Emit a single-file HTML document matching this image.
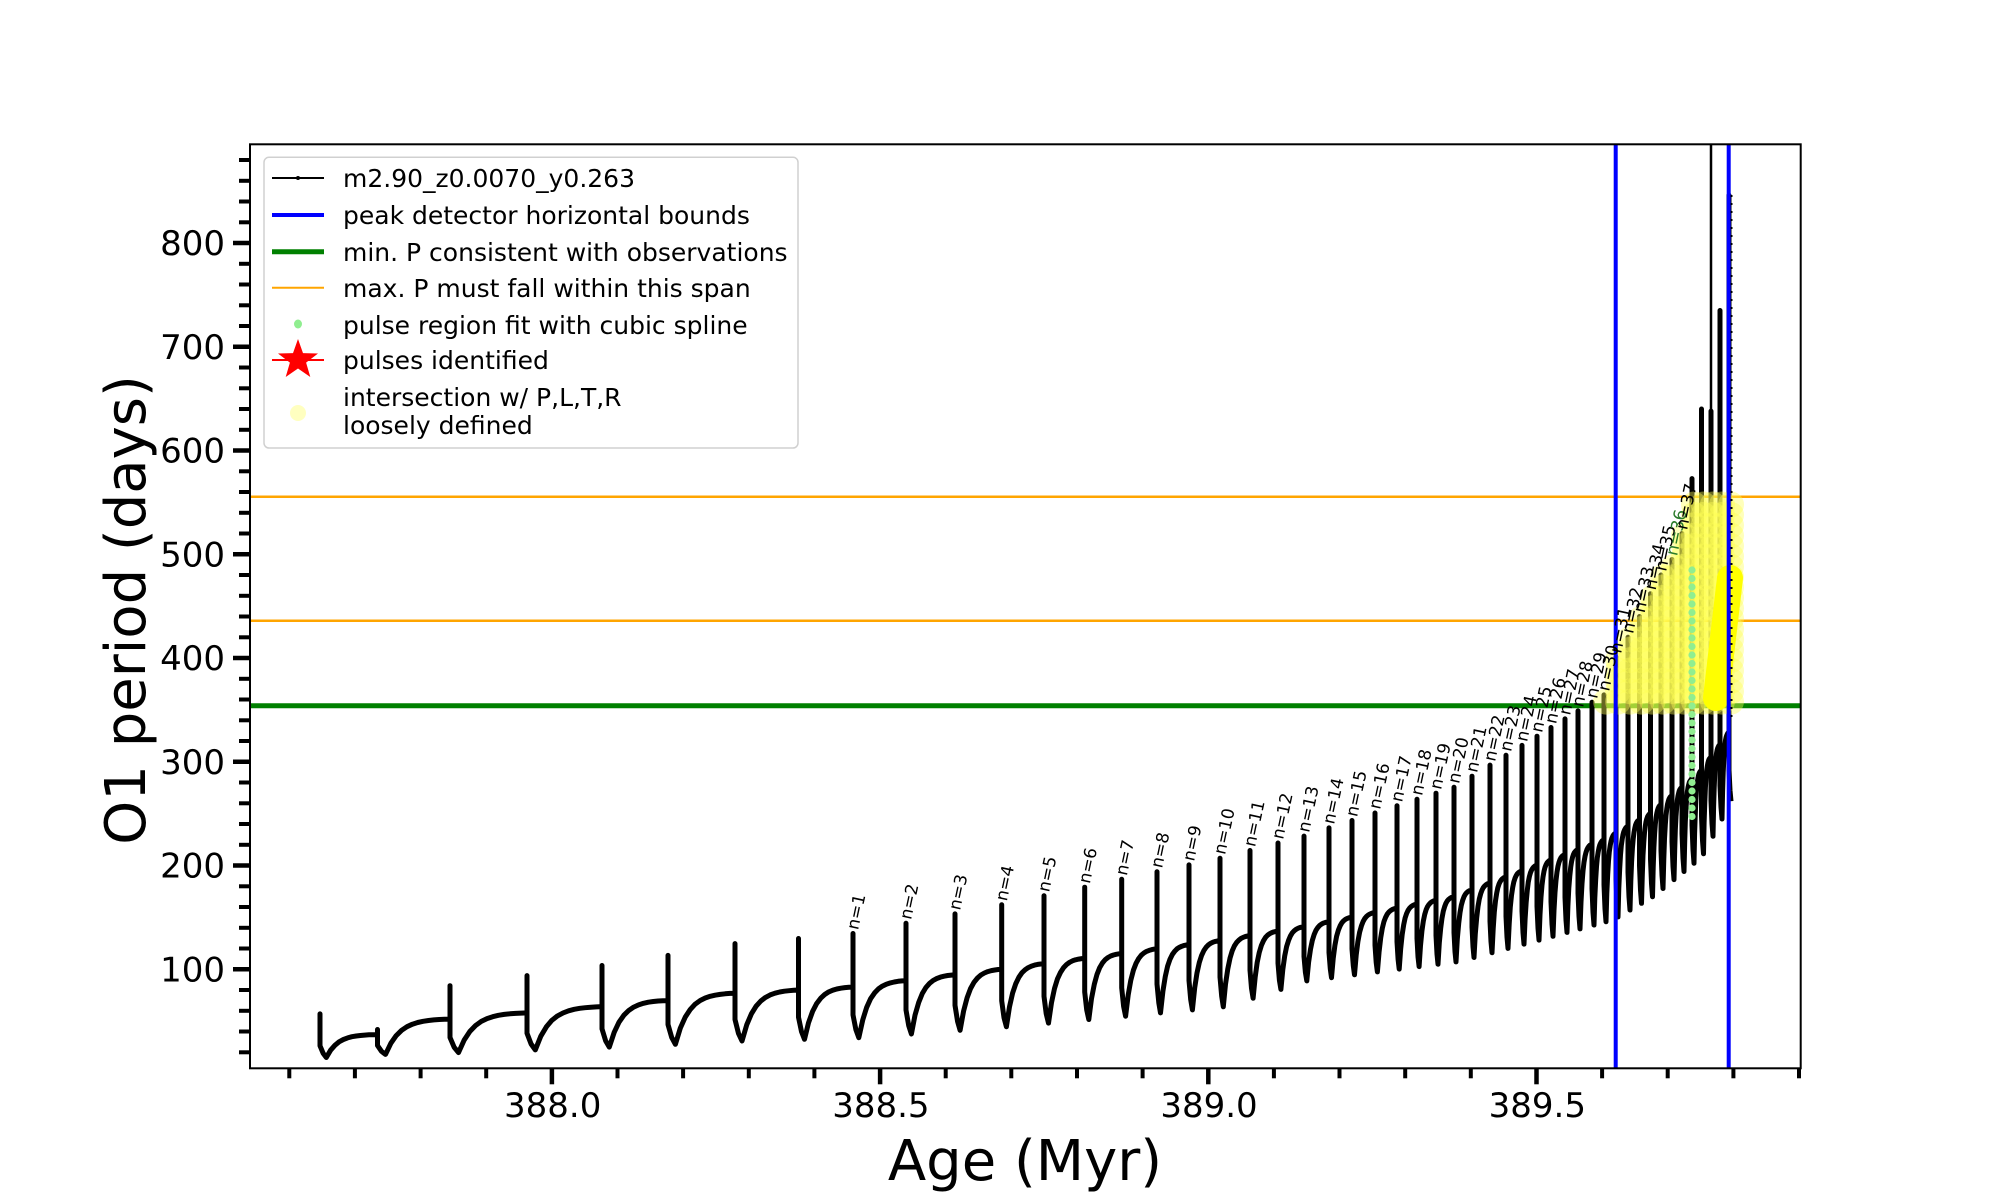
<!DOCTYPE html>
<html><head><meta charset="utf-8">
<style>
html,body{margin:0;padding:0;background:#fff;}
svg{display:block;font-family:"DejaVu Sans","Liberation Sans",sans-serif;}
.lbl{font-size:17px;fill:#000;}
</style></head>
<body>
<svg id="s" width="2000" height="1200" viewBox="0 0 2000 1200" xmlns="http://www.w3.org/2000/svg">
<defs><clipPath id="cp"><rect x="250" y="144.3" width="1550.7" height="924"/></clipPath></defs>
<rect x="0" y="0" width="2000" height="1200" fill="#fff"/>
<g clip-path="url(#cp)">
  <line x1="250" y1="705.7" x2="1800.7" y2="705.7" stroke="#008000" stroke-width="5"/>
  <line x1="250" y1="496.7" x2="1800.7" y2="496.7" stroke="#ffa500" stroke-width="2.5"/>
  <line x1="250" y1="620.7" x2="1800.7" y2="620.7" stroke="#ffa500" stroke-width="2.5"/>
  <g id="yel"></g>
  <path id="curve" d="" fill="none" stroke="#000" stroke-width="5" stroke-linejoin="round"/>
  <line x1="1711" y1="144" x2="1711" y2="420" stroke="#000" stroke-width="2.5"/>
  <g id="yel2"></g>
  <g id="grn"></g>
  <line x1="1716" y1="698" x2="1730" y2="578" stroke="#ffff00" stroke-width="26" stroke-linecap="round"/>
  <line x1="1615.7" y1="144" x2="1615.7" y2="1068" stroke="#0000ff" stroke-width="4"/>
  <line x1="1728.7" y1="144" x2="1728.7" y2="1068" stroke="#0000ff" stroke-width="4"/>
  <line x1="1731.5" y1="195" x2="1731.5" y2="720" stroke="#000" stroke-width="2" stroke-dasharray="2 6"/>
  <g id="labels">
    <text class="lbl">n=1</text><text class="lbl">n=2</text><text class="lbl">n=3</text><text class="lbl">n=4</text><text class="lbl">n=5</text><text class="lbl">n=6</text><text class="lbl">n=7</text><text class="lbl">n=8</text><text class="lbl">n=9</text><text class="lbl">n=10</text><text class="lbl">n=11</text><text class="lbl">n=12</text><text class="lbl">n=13</text><text class="lbl">n=14</text><text class="lbl">n=15</text><text class="lbl">n=16</text><text class="lbl">n=17</text><text class="lbl">n=18</text><text class="lbl">n=19</text><text class="lbl">n=20</text><text class="lbl">n=21</text><text class="lbl">n=22</text><text class="lbl">n=23</text><text class="lbl">n=24</text><text class="lbl">n=25</text><text class="lbl">n=26</text><text class="lbl">n=27</text><text class="lbl">n=28</text><text class="lbl">n=29</text><text class="lbl">n=30</text><text class="lbl">n=31</text><text class="lbl">n=32</text><text class="lbl">n=33</text><text class="lbl">n=34</text><text class="lbl">n=35</text><text class="lbl" style="fill:#2a7a2a">n=36</text><text class="lbl">n=37</text>
  </g>
</g>
<rect x="250" y="144.3" width="1550.7" height="924" fill="none" stroke="#000" stroke-width="2"/>
<g id="ticks"></g>
<g font-size="34" fill="#000">
  <text x="552.7" y="1117" text-anchor="middle">388.0</text>
  <text x="880.9" y="1117" text-anchor="middle">388.5</text>
  <text x="1209" y="1117" text-anchor="middle">389.0</text>
  <text x="1537.3" y="1117" text-anchor="middle">389.5</text>
  <text x="225" y="981.3" text-anchor="end">100</text>
  <text x="225" y="877.5" text-anchor="end">200</text>
  <text x="225" y="773.8" text-anchor="end">300</text>
  <text x="225" y="670" text-anchor="end">400</text>
  <text x="225" y="566.3" text-anchor="end">500</text>
  <text x="225" y="462.5" text-anchor="end">600</text>
  <text x="225" y="358.8" text-anchor="end">700</text>
  <text x="225" y="255" text-anchor="end">800</text>
</g>
<text x="1025" y="1180" font-size="56" text-anchor="middle">Age (Myr)</text>
<text transform="translate(145,610) rotate(-90)" font-size="56" text-anchor="middle">O1 period (days)</text>
<rect x="264" y="157.3" width="534" height="290.7" rx="5" fill="#fff" fill-opacity="0.85" stroke="#d0d0d0" stroke-width="1.5"/>
<line x1="272" y1="178" x2="324" y2="178" stroke="#000" stroke-width="2"/>
<circle cx="298" cy="178" r="2" fill="#000"/>
<line x1="272" y1="215" x2="324" y2="215" stroke="#0000ff" stroke-width="4"/>
<line x1="272" y1="251.7" x2="324" y2="251.7" stroke="#008000" stroke-width="5"/>
<line x1="272" y1="287.7" x2="324" y2="287.7" stroke="#ffa500" stroke-width="2"/>
<ellipse cx="298" cy="324" rx="4" ry="4.5" fill="#90ee90"/>
<line x1="272" y1="360" x2="324" y2="360" stroke="#ff0000" stroke-width="2"/>
<polygon id="star" fill="#ff0000"/>
<ellipse cx="298" cy="413" rx="8" ry="8" fill="#ffffc0"/>
<g font-size="25" fill="#000">
  <text x="343" y="187">m2.90_z0.0070_y0.263</text>
  <text x="343" y="224">peak detector horizontal bounds</text>
  <text x="343" y="261">min. P consistent with observations</text>
  <text x="343" y="297">max. P must fall within this span</text>
  <text x="343" y="334">pulse region fit with cubic spline</text>
  <text x="343" y="369">pulses identified</text>
  <text x="343" y="406">intersection w/ P,L,T,R</text>
  <text x="343" y="434">loosely defined</text>
</g>
</svg>
<script>
(function(){
var NS="http://www.w3.org/2000/svg";
function Y(d){return 969.3-(d-100)*1.0375;}
function interp(pts,x){
  if(x<=pts[0][0])return pts[0][1];
  for(var i=1;i<pts.length;i++){if(x<=pts[i][0]){var a=pts[i-1],b=pts[i];return a[1]+(b[1]-a[1])*(x-a[0])/(b[0]-a[0]);}}
  return pts[pts.length-1][1];
}
var X=[320,377.5,450,527,602,668,735,798.5,853,906,955,1001.7,1044,1084.7,1121.7,1157,1189,1220,1250,1278,1304,1329,1352,1375,1397,1417,1436,1454,1472,1490,1506,1522,1537,1551,1565,1578,1592,1604,1616,1628,1639.5,1650.5,1661,1672,1682,1692,1701.5,1711,1720,1729];
var preP=[[320,40],[377,37],[450,52],[527,58],[602,64],[668,70],[735,77],[798,80],[853,83],[1001,100],[1222,128],[1304,141],[1454,170],[1604,225],[1650,250],[1700,290],[1730,330]];
var minR=[[320,0.37],[853,0.41],[1222,0.5],[1304,0.63],[1466,0.63],[1616,0.65],[1700,0.72],[1730,0.8]];
var peakOverride={0:57,1:42,38:401,39:420,40:440,41:462,42:480,43:495,44:520,45:573,46:640,47:638,48:735,49:846};
var N=X.length,pre=[],pk=[],mn=[];
for(var i=0;i<N;i++){
  pre[i]=interp(preP,X[i]);
  pk[i]=peakOverride[i]!==undefined?peakOverride[i]:pre[i]*1.62;
  mn[i]=pre[i]*interp(minR,X[i]);
}
mn[0]=15;mn[1]=18;
var d="M"+X[0]+" "+Y(pre[0]).toFixed(1);
for(var i=0;i<N;i++){
  var x=X[i],A=pre[i],S=pk[i],m=mn[i];
  var dt=(i<N-1)?X[i+1]-x:8;
  var B=m+(A-m)*0.45;
  d+=" L"+x+" "+Y(A).toFixed(1)+" L"+x+" "+Y(S).toFixed(1)+" L"+x+" "+Y(B).toFixed(1);
  var xm=x+Math.max(2,0.11*dt);
  d+=" L"+((x+xm)/2).toFixed(1)+" "+Y(m+(B-m)*0.35).toFixed(1)+" L"+xm.toFixed(1)+" "+Y(m).toFixed(1);
  if(i<N-1){
    var An=pre[i+1],k=4.5;
    for(var s=1;s<=12;s++){
      var f=s/12,xx=xm+(X[i+1]-xm)*f;
      var v=m+(An-m)*(1-Math.exp(-k*f))/(1-Math.exp(-k));
      d+=" L"+xx.toFixed(1)+" "+Y(v).toFixed(1);
    }
  }
}
document.getElementById("curve").setAttribute("d",d);
var labs=document.getElementById("labels").children;
for(var j=0;j<labs.length;j++){
  var idx=8+j; if(idx>=N)break;
  var lx=X[idx]+5, ly=Y(Math.min(pk[idx],600))-3;
  labs[j].setAttribute("transform","translate("+lx.toFixed(1)+","+ly.toFixed(1)+") rotate(-78)");
}
var yel=document.getElementById("yel2");
for(var i=36;i<N;i++){
  var top=Math.min(pk[i],555);
  for(var v=358;v<=top;v+=10){
    var c=document.createElementNS(NS,"circle");
    c.setAttribute("cx",X[i]+2);c.setAttribute("cy",Y(v));c.setAttribute("r",13);
    c.setAttribute("fill","#ffff55");c.setAttribute("fill-opacity","0.4");
    yel.appendChild(c);
  }
}
var g=document.getElementById("grn");
for(var y=570;y<=823;y+=8.5){
  var c=document.createElementNS(NS,"circle");
  c.setAttribute("cx",1692);c.setAttribute("cy",y);c.setAttribute("r",3.6);c.setAttribute("fill","#90ee90");
  g.appendChild(c);
}
var t=document.getElementById("ticks"),h="";
for(var k=0;k<24;k++){
  var x=289.3+k*65.64; if(x>1802)break;
  var major=(k%5===4);
  h+='<line x1="'+x.toFixed(1)+'" y1="1068.3" x2="'+x.toFixed(1)+'" y2="'+(1068.3+(major?16:10))+'" stroke="#000" stroke-width="'+(major?4.5:4)+'"/>';
}
for(var v=20;v<=880;v+=20){
  var y=Y(v),major=(v%100===0);
  h+='<line x1="'+(250-(major?17:11))+'" y1="'+y.toFixed(1)+'" x2="250" y2="'+y.toFixed(1)+'" stroke="#000" stroke-width="'+(major?4.5:4)+'"/>';
}
t.innerHTML=h;
var p=[],cx=298,cy=360,R=21,r=8.5;
for(var k=0;k<10;k++){var a=-Math.PI/2+k*Math.PI/5,rr=k%2?r:R;p.push((cx+rr*Math.cos(a)).toFixed(1)+","+(cy+rr*Math.sin(a)).toFixed(1));}
document.getElementById("star").setAttribute("points",p.join(" "));
})();
</script>
</body></html>
